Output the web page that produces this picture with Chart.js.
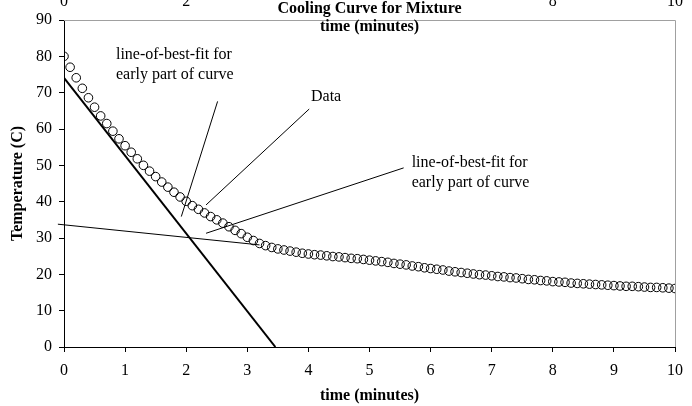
<!DOCTYPE html>
<html><head><meta charset="utf-8">
<script src="https://cdn.jsdelivr.net/npm/chart.js@4.4.1/dist/chart.umd.min.js"></script>
<style>html,body{margin:0;padding:0;background:#fff}#wrap{width:692px;height:406px}</style>
</head><body><div id="wrap"><canvas id="c" width="692" height="406"></canvas></div>
<script>
// ---- data ----
const times = [0.0,0.1,0.2,0.3,0.4,0.5,0.6,0.7,0.8,0.9,1.0,1.1,1.2,1.3,1.4,1.5,1.6,1.7,1.8,1.9,
  2.0,2.1,2.2,2.3,2.4,2.5,2.6,2.7,2.8,2.9,3.0,3.1,3.2,3.3,3.4,3.5,3.6,3.7,3.8,3.9,
  4.0,4.1,4.2,4.3,4.4,4.5,4.6,4.7,4.8,4.9,5.0,5.1,5.2,5.3,5.4,5.5,5.6,5.7,5.8,5.9,
  6.0,6.1,6.2,6.3,6.4,6.5,6.6,6.7,6.8,6.9,7.0,7.1,7.2,7.3,7.4,7.5,7.6,7.7,7.8,7.9,
  8.0,8.1,8.2,8.3,8.4,8.5,8.6,8.7,8.8,8.9,9.0,9.1,9.2,9.3,9.4,9.5,9.6,9.7,9.8,9.9,10.0];
const temps = [80.0,77.0,74.1,71.2,68.6,66.0,63.6,61.5,59.4,57.3,55.4,53.6,51.8,50.0,48.4,46.9,45.4,44.0,42.6,41.3,
  40.1,38.9,37.9,36.9,35.9,35.0,34.1,33.1,32.1,31.2,30.2,29.3,28.5,27.9,27.4,27.0,26.7,26.4,26.1,25.8,
  25.6,25.4,25.3,25.1,24.9,24.8,24.6,24.4,24.3,24.1,23.9,23.7,23.5,23.3,23.0,22.8,22.6,22.3,22.1,21.8,
  21.6,21.4,21.2,20.9,20.7,20.5,20.3,20.1,19.9,19.8,19.6,19.4,19.3,19.1,19.0,18.8,18.6,18.5,18.3,18.2,
  18.0,17.9,17.8,17.6,17.5,17.4,17.3,17.2,17.1,17.0,16.9,16.8,16.7,16.7,16.6,16.5,16.4,16.4,16.3,16.2,16.1];
const steepFitX = [0, 3.46];
const steepFitY = [74.1, 0];
const shallowFitX = [-0.1, 3.2];
const shallowFitY = [33.8, 28.1];
const leader1X = [2.514, 1.92]; const leader1Y = [67.6, 35.9];
const leader2X = [4.013, 2.325]; const leader2Y = [65.5, 39.1];
const leader3X = [5.559, 2.325]; const leader3Y = [49.3, 31.3];
const xTicks = [0,1,2,3,4,5,6,7,8,9,10];
const topTickLabels = [0,2,4,6,8,10];
const labels = [
  {text:'line-of-best-fit for', x:0.85, y:80.5, align:'left'},
  {text:'early part of curve', x:0.85, y:75.0, align:'left'},
  {text:'Data', x:4.29, y:69.0, align:'center'},
  {text:'line-of-best-fit for', x:5.69, y:50.6, align:'left'},
  {text:'early part of curve', x:5.69, y:45.1, align:'left'}
];
const chartTitle = 'Cooling Curve for Mixture';
const xTitle = 'time (minutes)';
const yTitle = 'Temperature (C)';

const FONT = "'Liberation Serif','Times New Roman',serif";
const pts = (xs, ys) => xs.map((x, i) => ({x, y: ys[i]}));
const lineDs = (xs, ys, w, extra) => Object.assign({
  type: 'line', data: pts(xs, ys), borderColor: '#000', borderWidth: w,
  pointRadius: 0, fill: false, showLine: true, tension: 0
}, extra || {});

const decor = {
  id: 'decor',
  afterDraw(chart) {
    const ctx = chart.ctx, a = chart.chartArea, xs = chart.scales.x, ys = chart.scales.y;
    ctx.save();
    // gray top/right frame
    ctx.strokeStyle = '#a0a0a0'; ctx.lineWidth = 1;
    ctx.beginPath();
    ctx.moveTo(a.left, a.top + 0.5); ctx.lineTo(a.right + 0.5, a.top + 0.5);
    ctx.lineTo(a.right + 0.5, a.bottom);
    ctx.stroke();
    // clipped top axis labels
    ctx.fillStyle = '#000';
    ctx.font = '16px ' + FONT;
    ctx.textAlign = 'center'; ctx.textBaseline = 'alphabetic';
    topTickLabels.forEach(v => ctx.fillText(String(v), xs.getPixelForValue(v), 6));
    // titles
    const cx = (a.left + a.right) / 2;
    ctx.font = 'bold 16px ' + FONT;
    const w = ctx.measureText(chartTitle).width;
    ctx.fillStyle = '#fff';
    ctx.fillRect(cx - w / 2 - 3, 0, w + 6, 17);
    ctx.fillStyle = '#000';
    ctx.textBaseline = 'middle';
    ctx.fillText(chartTitle, cx, 9);
    ctx.fillText(xTitle, cx, 27);
    // annotation labels
    ctx.font = '16px ' + FONT;
    labels.forEach(l => {
      ctx.textAlign = l.align;
      ctx.fillText(l.text, xs.getPixelForValue(l.x), ys.getPixelForValue(l.y));
    });
    ctx.restore();
  }
};

new Chart(document.getElementById('c'), {
  type: 'scatter',
  data: {
    datasets: [
      {
        label: 'Data', data: pts(times, temps), showLine: false,
        pointStyle: 'circle', pointRadius: 4.3, pointBorderWidth: 1,
        borderColor: '#000', backgroundColor: 'rgba(0,0,0,0)', pointBackgroundColor: 'rgba(0,0,0,0)'
      },
      lineDs(steepFitX, steepFitY, 2),
      lineDs(shallowFitX, shallowFitY, 1, {clip: false}),
      lineDs(leader1X, leader1Y, 1),
      lineDs(leader2X, leader2Y, 1),
      lineDs(leader3X, leader3Y, 1)
    ]
  },
  options: {
    responsive: false, animation: false, devicePixelRatio: 1,
    layout: {padding: {top: 20, right: 9, left: 0, bottom: 0}},
    plugins: {legend: {display: false}, tooltip: {enabled: false}, title: {display: false}},
    scales: {
      x: {
        type: 'linear', position: 'bottom', min: 0, max: 10,
        afterBuildTicks: s => { s.ticks = xTicks.map(v => ({value: v})); },
        afterFit: s => { s.height = 59; },
        ticks: {color: '#000', font: {family: FONT, size: 16}, padding: 9, maxRotation: 0, autoSkip: false},
        grid: {drawOnChartArea: false, drawTicks: true, tickLength: 5, color: '#000'},
        border: {color: '#000', width: 1},
        title: {display: true, text: xTitle, color: '#000', font: {family: FONT, size: 16, weight: 'bold'}, padding: {top: 0, bottom: 1}}
      },
      y: {
        min: 0, max: 90,
        afterFit: s => { s.width = 64; },
        ticks: {stepSize: 10, color: '#000', font: {family: FONT, size: 16}, padding: 7},
        grid: {drawOnChartArea: false, drawTicks: true, tickLength: 5, color: '#000'},
        border: {color: '#000', width: 1},
        title: {display: true, text: yTitle, color: '#000', font: {family: FONT, size: 16, weight: 'bold'}, padding: {top: 8, bottom: 0}}
      }
    }
  },
  plugins: [decor]
});
</script>
</body></html>
